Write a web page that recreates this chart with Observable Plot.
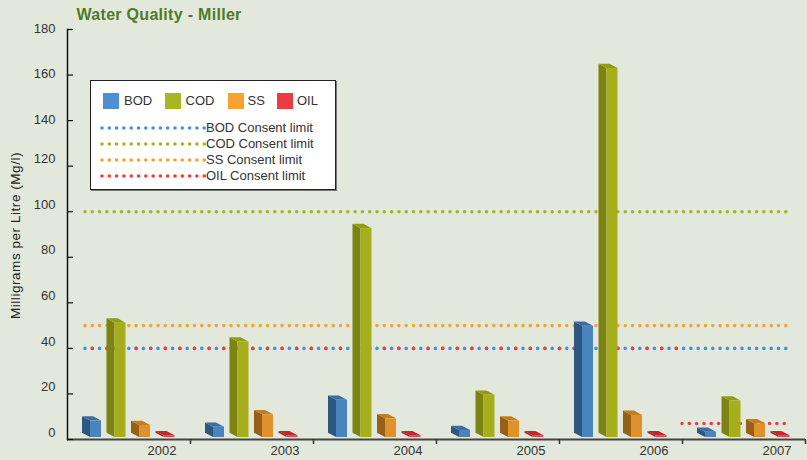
<!DOCTYPE html>
<html><head><meta charset="utf-8">
<script src="https://cdn.jsdelivr.net/npm/d3@7"></script>
<script src="https://cdn.jsdelivr.net/npm/@observablehq/plot@0.6"></script>
<style>
html,body{margin:0;padding:0;background:#e3e8dd;}
#wrap{position:relative;width:807px;height:460px;overflow:hidden;font-family:"Liberation Sans",Arial,Helvetica,sans-serif;}
#legendBox{position:absolute;left:90px;top:80px;width:244px;height:108px;background:#fff;border:1.5px solid #222;box-shadow:1px 1px 0 #777;}
.sw{position:absolute;width:16px;height:16px;}
.lt{position:absolute;font-size:13px;color:#333;line-height:16px;white-space:nowrap;}
#legendLines{position:absolute;left:0;top:0;pointer-events:none;}
</style></head><body><div id="wrap"></div>
<script>
const title = "Water Quality - Miller";
const yLabel = "Milligrams per Litre (Mg/l)";
const years = ["2002", "2003", "2004", "2005", "2006", "2007"];
const seriesNames = ["BOD", "COD", "SS", "OIL"];
const bodValues = [7.2, 4.5, 16.3, 3.1, 48.8, 2.3];
const codValues = [50.2, 41.9, 91.7, 18.5, 162, 16];
const ssValues = [5.3, 10, 8.2, 7.2, 9.7, 6];
const oilValues = [0.8, 0.8, 0.8, 0.8, 0.8, 0.8];
const bodLimit = [40, 40, 40, 40, 40, 40];
const codLimit = [100, 100, 100, 100, 100, 100];
const ssLimit = [50, 50, 50, 50, 50, 50];
const oilLimit = [40, 40, 40, 40, 40, 7];
const limitNames = ["BOD Consent limit", "COD Consent limit", "SS Consent limit", "OIL Consent limit"];
const yTicks = [0, 20, 40, 60, 80, 100, 120, 140, 160, 180];

// styling
const frontColors = ["#4a84bd", "#a6ae1c", "#df922c", "#e0474c"];
const sideColors = ["#2c5880", "#7b8410", "#966017", "#a81e22"];
const topColors = ["#3c6d9e", "#929b16", "#c47c22", "#c0282d"];
const swatchColors = ["#4d8fd1", "#a9b521", "#f8a232", "#ec3b42"];
const dotColors = ["#4a90d9", "#a8b41f", "#f9a12e", "#f13c40"];
const P = 7.3;

const valueArrays = [bodValues, codValues, ssValues, oilValues];
const limitArrays = [bodLimit, codLimit, ssLimit, oilLimit];

function prism(sideFill, topFill) {
  const DX = 8, DY = 4.3;
  return function (index, scales, values, dimensions, context, next) {
    const g = next(index, scales, values, dimensions, context);
    for (const r of Array.from(g.querySelectorAll("rect"))) {
      const x = +r.getAttribute("x"), y = +r.getAttribute("y");
      const w = +r.getAttribute("width"), h = +r.getAttribute("height");
      const side = document.createElementNS("http://www.w3.org/2000/svg", "polygon");
      side.setAttribute("points", [[x - DX, y - DY], [x, y], [x, y + h], [x - DX, y + h - DY]].map(p => p.join(",")).join(" "));
      side.setAttribute("fill", sideFill);
      const top = document.createElementNS("http://www.w3.org/2000/svg", "polygon");
      top.setAttribute("points", [[x - DX, y - DY], [x + w - DX, y - DY], [x + w, y], [x, y]].map(p => p.join(",")).join(" "));
      top.setAttribute("fill", topFill);
      r.parentNode.insertBefore(side, r);
      r.parentNode.insertBefore(top, r);
    }
    return g;
  };
}

function runs(values) {
  const out = [];
  years.forEach((yr, i) => {
    const last = out[out.length - 1];
    if (last && last.value === values[i]) { last.to = yr; last.idx.push(i); }
    else out.push({from: yr, to: yr, value: values[i], idx: [i]});
  });
  return out;
}

const marks = [];
// limit lines
limitArrays.forEach((arr, s) => {
  for (const run of runs(arr)) {
    const coincide = limitArrays.slice(0, s).some(other => run.idx.every(i => other[i] === run.value));
    marks.push(Plot.ruleY([run], {
      x1: "from", x2: "to", y: "value",
      insetLeft: run.from === years[0] ? 18 : 0,
      insetRight: run.to === years[years.length - 1] ? 15 : 0,
      stroke: dotColors[s], strokeWidth: 3.6, strokeLinecap: "round",
      strokeDasharray: coincide ? `0,${2 * P}` : `0,${P}`,
      strokeDashoffset: coincide ? -P : 0
    }));
  }
});

// 3D bars
valueArrays.forEach((arr, s) => {
  const rows = years.map((year, i) => ({year, value: arr[i]}));
  marks.push(Plot.barY(rows, {
    x: "year", y: "value", fill: frontColors[s],
    insetLeft: 23 + 24.5 * s, insetRight: 89 - 24.5 * s, dy: -2,
    render: prism(sideColors[s], topColors[s])
  }));
});

marks.push(
  Plot.ruleY([0], {stroke: "#444", strokeWidth: 2}),
  Plot.frame({anchor: "left", stroke: "#111", strokeWidth: 1.5}),
  Plot.axisY(yTicks, {tickSize: 6, dx: 6, tickFormat: () => "", label: null, stroke: "#111", strokeWidth: 1.2}),
  Plot.axisY(yTicks.filter(v => v >= 140), {tickSize: 0, tickPadding: 12, dy: -1, label: null, fontSize: 13, fill: "#333"}),
  Plot.axisY(yTicks.filter(v => v < 140), {tickSize: 0, tickPadding: 12, dy: -7, label: null, fontSize: 13, fill: "#333"}),
  Plot.axisX({tickSize: 5, dx: 61.5, tickFormat: () => "", label: null, stroke: "#333", strokeWidth: 1.5}),
  Plot.axisX({tickSize: 0, dx: 33, tickPadding: 6, label: null, fontSize: 13, fill: "#333"}),
  Plot.text([yLabel], {frameAnchor: "left", textAnchor: "middle", rotate: -90, dx: -52, dy: 1, fontSize: 13.5, fill: "#222"}),
  Plot.text([title], {frameAnchor: "top-left", textAnchor: "start", lineAnchor: "middle", dx: 9, dy: -15, fontSize: 16, fontWeight: "bold", fill: "#507a28"})
);

const chart = Plot.plot({
  width: 807, height: 460,
  marginLeft: 67, marginRight: 2, marginTop: 29, marginBottom: 21,
  style: {background: "#e3e8dd", fontFamily: "'Liberation Sans', Arial, Helvetica, sans-serif", fontSize: "13px", color: "#333", overflow: "visible"},
  x: {type: "band", domain: years, padding: 0},
  y: {domain: [0, 180]},
  marks
});
chart.querySelectorAll("text").forEach(t => {
  if (t.textContent === title) t.setAttribute("letter-spacing", "0.3");
  if (t.textContent === yLabel) t.setAttribute("letter-spacing", "0.55");
});

const wrap = document.getElementById("wrap");
wrap.appendChild(chart);

// legend
const box = document.createElement("div");
box.id = "legendBox";
wrap.appendChild(box);
const swLeft = [103, 165, 228, 277];
const txtLeft = [124, 185.5, 247.5, 297];
seriesNames.forEach((name, i) => {
  const sw = document.createElement("div");
  sw.className = "sw";
  sw.style.left = swLeft[i] + "px"; sw.style.top = "92.5px"; sw.style.background = swatchColors[i];
  wrap.appendChild(sw);
  const t = document.createElement("div");
  t.className = "lt"; t.textContent = name;
  t.style.left = txtLeft[i] + "px"; t.style.top = "92.5px";
  wrap.appendChild(t);
});
const ls = d3.create("svg").attr("id", "legendLines").attr("width", 807).attr("height", 460);
limitNames.forEach((name, i) => {
  const cy = 128 + 16 * i;
  ls.append("line").attr("x1", 102).attr("x2", 205).attr("y1", cy).attr("y2", cy)
    .attr("stroke", dotColors[i]).attr("stroke-width", 3.6).attr("stroke-linecap", "round")
    .attr("stroke-dasharray", `0,${P}`);
  const t = document.createElement("div");
  t.className = "lt"; t.textContent = name;
  t.style.left = "206px"; t.style.top = (cy - 8) + "px";
  wrap.appendChild(t);
});
wrap.appendChild(ls.node());
</script></body></html>
